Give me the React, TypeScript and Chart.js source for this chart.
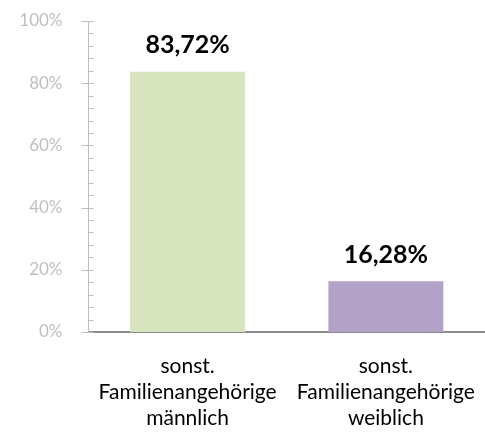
import { useEffect, useRef } from 'react';
import { Chart, registerables } from 'chart.js';

Chart.register(...registerables);

const categories: string[][] = [
  ['sonst.', 'Familienangehörige', 'männlich'],
  ['sonst.', 'Familienangehörige', 'weiblich'],
];
const values: number[] = [83.72, 16.28];
const valueLabels: string[] = ['83,72%', '16,28%'];
const barColors: string[] = ['#d7e4bd', '#b3a2c7'];
const yMin = 0;
const yMax = 100;
const yStep = 20;
const yMinorStep = 4;

const FONT = 'Lato, "Open Sans", sans-serif';

const tickPlugin = {
  id: 'minorTicks',
  afterDraw(chart: any) {
    const ctx = chart.ctx;
    const y = chart.scales.y;
    const x0 = chart.chartArea.left;
    ctx.save();
    ctx.strokeStyle = '#bfbfbf';
    ctx.lineWidth = 1;
    for (let v = yMin; v <= yMax + 0.001; v += yMinorStep) {
      const py = Math.round(y.getPixelForValue(v)) + 0.5;
      const major = Math.abs(v % yStep) < 0.001;
      ctx.beginPath();
      ctx.moveTo(major ? x0 - 7 : x0, py);
      ctx.lineTo(x0 + 5, py);
      ctx.stroke();
    }
    ctx.restore();
  },
};

const labelPlugin = {
  id: 'valueLabels',
  afterDatasetsDraw(chart: any) {
    const ctx = chart.ctx;
    const meta = chart.getDatasetMeta(0);
    ctx.save();
    ctx.fillStyle = '#000000';
    ctx.font = `bold 25px ${FONT}`;
    ctx.textAlign = 'center';
    ctx.textBaseline = 'bottom';
    meta.data.forEach((bar: any, i: number) => {
      ctx.fillText(valueLabels[i], bar.x, bar.y - 14);
    });
    ctx.restore();
  },
};

export default function App() {
  const ref = useRef<HTMLCanvasElement>(null);
  useEffect(() => {
    document.body.style.margin = '0';
    const chart = new Chart(ref.current!, {
      type: 'bar',
      data: {
        labels: categories,
        datasets: [
          {
            data: values,
            backgroundColor: barColors,
            borderWidth: 0,
            barPercentage: 0.58,
            categoryPercentage: 1,
          },
        ],
      },
      options: {
        responsive: false,
        animation: false,
        layout: { padding: { top: 21, left: 0, right: 0, bottom: 0 } },
        plugins: {
          legend: { display: false },
          title: { display: false },
          tooltip: { enabled: false },
        },
        scales: {
          x: {
            grid: { display: false },
            border: { display: true, color: '#8c8c8c', width: 2 },
            ticks: {
              color: '#000000',
              font: { family: FONT, size: 21, lineHeight: 1.24 },
              padding: 13,
              maxRotation: 0,
              autoSkip: false,
            },
            afterFit(scale: any) {
              scale.height = 100;
              scale.paddingLeft = 0;
              scale.paddingRight = 0;
              scale.paddingTop = 0;
              scale.paddingBottom = 0;
            },
          },
          y: {
            min: yMin,
            max: yMax,
            grid: { display: false },
            border: { display: true, color: '#bfbfbf', width: 1 },
            ticks: {
              stepSize: yStep,
              color: '#bfbfbf',
              font: { family: FONT, size: 17 },
              padding: 18,
              callback: (v: any) => `${v}%`,
            },
            afterFit(scale: any) {
              scale.width = 88.5;
              scale.paddingLeft = 0;
              scale.paddingRight = 0;
              scale.paddingTop = 0;
              scale.paddingBottom = 0;
            },
          },
        },
      },
      plugins: [tickPlugin, labelPlugin],
    });
    return () => chart.destroy();
  }, []);
  return (
    <div style={{ width: 485, height: 432 }}>
      <canvas ref={ref} width={485} height={432} />
    </div>
  );
}
